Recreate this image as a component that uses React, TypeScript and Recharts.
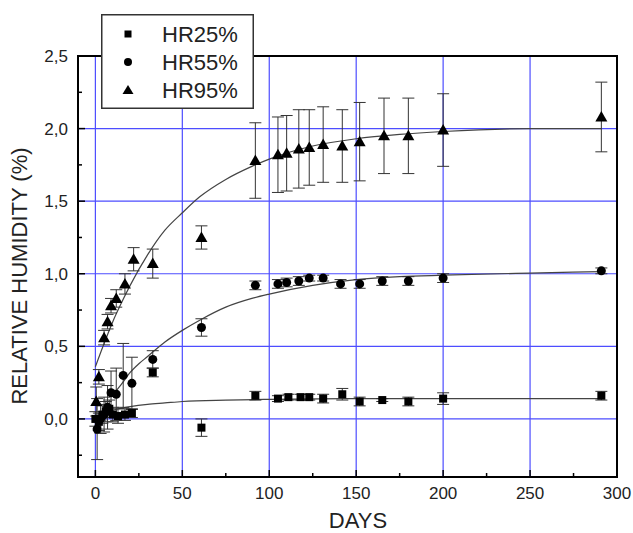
import React from 'react';
import {
  ComposedChart,
  Scatter,
  Line,
  XAxis,
  YAxis,
  CartesianGrid,
  ErrorBar,
  ReferenceArea,
  Legend,
} from 'recharts';

// ---------- data ----------
const hr25Days = [0, 2, 4, 6, 8, 10, 13, 17, 21, 33, 61, 92, 105, 111, 118, 123, 131, 142, 152, 165, 180, 200, 291];
const hr25Values = [0.0, -0.02, 0.03, 0.05, 0.07, 0.03, 0.02, 0.03, 0.04, 0.32, -0.06, 0.16, 0.14, 0.15, 0.15, 0.15, 0.14, 0.17, 0.12, 0.13, 0.12, 0.14, 0.16];
const hr25Errors = [0.05, 0.06, 0.06, 0.07, 0.06, 0.05, 0.05, 0.04, 0.03, 0.03, 0.06, 0.03, 0.02, 0.02, 0.02, 0.02, 0.03, 0.04, 0.03, 0.01, 0.03, 0.04, 0.03];

const hr55Days = [1, 3, 5, 7, 9, 12, 16, 21, 33, 61, 92, 105, 110, 117, 123, 131, 141, 152, 165, 180, 200, 291];
const hr55Values = [-0.07, 0.0, 0.03, 0.08, 0.18, 0.17, 0.3, 0.245, 0.41, 0.63, 0.92, 0.93, 0.94, 0.95, 0.97, 0.97, 0.93, 0.93, 0.95, 0.95, 0.97, 1.02];
const hr55Errors = [0.21, 0.1, 0.12, 0.15, 0.15, 0.18, 0.22, 0.18, 0.06, 0.06, 0.03, 0.03, 0.03, 0.03, 0.02, 0.02, 0.03, 0.03, 0.03, 0.03, 0.03, 0.02];

const hr95Days = [0.5, 2, 5, 7, 9, 12, 17, 22, 33, 61, 92, 105, 110, 117, 123, 131, 142, 152, 166, 180, 200, 291];
const hr95Values = [0.12, 0.29, 0.56, 0.67, 0.78, 0.83, 0.93, 1.1, 1.07, 1.25, 1.78, 1.82, 1.83, 1.86, 1.87, 1.89, 1.88, 1.91, 1.95, 1.95, 1.99, 2.08];
const hr95Errors = [0.1, 0.05, 0.05, 0.05, 0.05, 0.06, 0.07, 0.08, 0.1, 0.08, 0.26, 0.26, 0.26, 0.27, 0.26, 0.26, 0.25, 0.27, 0.26, 0.26, 0.25, 0.24];

// fitted curves
const fit25Days = [5, 10, 15, 20, 30, 40, 50, 75, 100, 150, 200, 291];
const fit25Values = [0.04, 0.06, 0.075, 0.085, 0.1, 0.11, 0.12, 0.13, 0.135, 0.14, 0.14, 0.14];

const fit55Days = [11, 15, 20, 25, 30, 40, 50, 60, 75, 90, 100, 125, 150, 175, 200, 250, 291];
const fit55Values = [0.18, 0.24, 0.32, 0.38, 0.43, 0.53, 0.61, 0.68, 0.77, 0.83, 0.86, 0.92, 0.96, 0.98, 0.99, 1.005, 1.015];

const fit95Days = [0, 5, 10, 15, 20, 30, 40, 50, 60, 75, 90, 100, 125, 150, 175, 200, 250, 291];
const fit95Values = [0.36, 0.52, 0.67, 0.8, 0.92, 1.13, 1.3, 1.42, 1.53, 1.65, 1.74, 1.79, 1.88, 1.93, 1.96, 1.98, 2.0, 2.0];

const xTicks = [0, 25, 50, 75, 100, 125, 150, 175, 200, 225, 250, 275, 300];
const xGrid = [0, 50, 100, 150, 200, 250];
const yTicks = [-0.25, 0, 0.25, 0.5, 0.75, 1, 1.25, 1.5, 1.75, 2, 2.25, 2.5];
const yGrid = [0, 0.5, 1, 1.5, 2];

const legendLabels = ['HR25%', 'HR55%', 'HR95%'];

// ---------- build tables ----------
const toPoints = (days: number[], vals: number[], errs: number[]) =>
  days.map((x, i) => ({ x, y: vals[i], err: errs[i] }));
const toLine = (days: number[], vals: number[]) => days.map((x, i) => ({ x, y: vals[i] }));

const hr25Data = toPoints(hr25Days, hr25Values, hr25Errors);
const hr55Data = toPoints(hr55Days, hr55Values, hr55Errors);
const hr95Data = toPoints(hr95Days, hr95Values, hr95Errors);
const fit25 = toLine(fit25Days, fit25Values);
const fit55 = toLine(fit55Days, fit55Values);
const fit95 = toLine(fit95Days, fit95Values);

const FONT = '"Liberation Sans", Arial, Helvetica, sans-serif';

// ---------- marker shapes ----------
const SquareShape = (p: any) => (
  <rect x={p.cx - 4} y={p.cy - 4} width={8} height={8} fill="#000" />
);
const CircleShape = (p: any) => <circle cx={p.cx} cy={p.cy} r={4.5} fill="#000" />;
const TriangleShape = (p: any) => (
  <polygon
    points={`${p.cx},${p.cy - 6} ${p.cx - 6},${p.cy + 4.5} ${p.cx + 6},${p.cy + 4.5}`}
    fill="#000"
  />
);

// ---------- ticks (inward tick marks) ----------
const YTick = (props: any) => {
  const { x, y, payload } = props;
  const v = payload.value as number;
  const major = Math.abs(v * 2 - Math.round(v * 2)) < 1e-6;
  return (
    <g>
      <line x1={x} y1={y} x2={x + (major ? 7 : 4)} y2={y} stroke="#000" strokeWidth={1.5} />
      {major && (
        <text x={x - 10} y={y} dy={6} textAnchor="end" fontSize={17} fontFamily={FONT} fill="#222">
          {v.toFixed(1).replace('.', ',')}
        </text>
      )}
    </g>
  );
};

const XTick = (props: any) => {
  const { x, y, payload } = props;
  const v = payload.value as number;
  const major = v % 50 === 0;
  return (
    <g>
      <line x1={x} y1={y} x2={x} y2={y - (major ? 7 : 4)} stroke="#000" strokeWidth={1.5} />
      {major && (
        <text x={x} y={y + 22} textAnchor="middle" fontSize={17} fontFamily={FONT} fill="#222">
          {v}
        </text>
      )}
    </g>
  );
};

// ---------- legend ----------
const LegendBox = () => (
  <svg width={153} height={95} style={{ display: 'block' }}>
    <rect x={0.75} y={0.75} width={151.5} height={93.5} fill="#fff" stroke="#333" strokeWidth={1.5} />
    <rect x={23.5} y={16.5} width={7} height={7} fill="#000" />
    <circle cx={27} cy={48} r={4} fill="#000" />
    <polygon points="27,71 21.5,80 32.5,80" fill="#000" />
    {legendLabels.map((t, i) => (
      <text key={t} x={61} y={28 + i * 28} fontSize={22} fontFamily={FONT} fill="#222">
        {t}
      </text>
    ))}
  </svg>
);

export default function App() {
  return (
    <div>
      <style>{'body{margin:0}'}</style>
      <ComposedChart
        width={633}
        height={533}
        margin={{ top: 56, right: 16, bottom: 16, left: 18 }}
      >
        <CartesianGrid
          stroke="#4d4dff"
          strokeWidth={1.2}
          horizontalValues={yGrid}
          verticalValues={xGrid}
        />
        <XAxis
          type="number"
          dataKey="x"
          domain={[-10, 300]}
          ticks={xTicks}
          interval={0}
          allowDataOverflow
          axisLine={false}
          tickLine={false}
          tickSize={0}
          tickMargin={0}
          height={40}
          tick={<XTick />}
          label={{
            content: () => (
              <text x={358} y={528} textAnchor="middle" fontSize={22} fontFamily={FONT} fill="#222">
                DAYS
              </text>
            ),
          }}
        />
        <YAxis
          type="number"
          dataKey="y"
          domain={[-0.4, 2.5]}
          ticks={yTicks}
          interval={0}
          allowDataOverflow
          axisLine={false}
          tickLine={false}
          tickSize={0}
          tickMargin={0}
          width={60}
          tick={<YTick />}
          label={{
            content: () => (
              <text
                x={27}
                y={276}
                transform="rotate(-90 27 276)"
                textAnchor="middle"
                fontSize={22}
                fontFamily={FONT}
                fill="#222"
              >
                RELATIVE HUMIDITY (%)
              </text>
            ),
          }}
        />
        <ReferenceArea x1={-10} x2={300} y1={-0.4} y2={2.5} fill="none" stroke="#000" strokeWidth={2} />

        <Line data={fit25} dataKey="y" type="monotone" stroke="#444" strokeWidth={1.2} dot={false} isAnimationActive={false} legendType="none" />
        <Line data={fit55} dataKey="y" type="monotone" stroke="#444" strokeWidth={1.2} dot={false} isAnimationActive={false} legendType="none" />
        <Line data={fit95} dataKey="y" type="monotone" stroke="#444" strokeWidth={1.2} dot={false} isAnimationActive={false} legendType="none" />

        <Scatter name="HR25%" data={hr25Data} dataKey="y" fill="#000" shape={<SquareShape />} isAnimationActive={false}>
          <ErrorBar dataKey="err" direction="y" width={6} stroke="#333" strokeWidth={1} />
        </Scatter>
        <Scatter name="HR55%" data={hr55Data} dataKey="y" fill="#000" shape={<CircleShape />} isAnimationActive={false}>
          <ErrorBar dataKey="err" direction="y" width={6} stroke="#333" strokeWidth={1} />
        </Scatter>
        <Scatter name="HR95%" data={hr95Data} dataKey="y" fill="#000" shape={<TriangleShape />} isAnimationActive={false}>
          <ErrorBar dataKey="err" direction="y" width={6} stroke="#333" strokeWidth={1} />
        </Scatter>

        <Legend
          layout="vertical"
          align="center"
          verticalAlign="middle"
          content={() => <LegendBox />}
          wrapperStyle={{ position: 'absolute', left: 101, top: 14, width: 153, height: 95 }}
        />
      </ComposedChart>
    </div>
  );
}
